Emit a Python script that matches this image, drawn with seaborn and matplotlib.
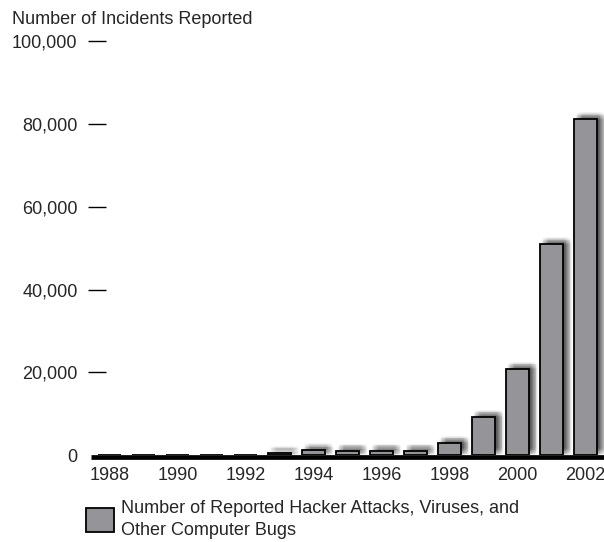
import math
import matplotlib
matplotlib.use("Agg")
import matplotlib.pyplot as plt
import matplotlib.patheffects as pe
from matplotlib.patches import Patch
from matplotlib.transforms import offset_copy
from matplotlib.ticker import FuncFormatter
import seaborn as sns
import pandas as pd

# Yearly incident counts
years = ["1988", "1989", "1990", "1991", "1992", "1993", "1994", "1995",
         "1996", "1997", "1998", "1999", "2000", "2001", "2002"]
incidents = [0, 0, 0, 0, 0, 500, 1100, 1000,
             1000, 1000, 2900, 9200, 20800, 51000, 81200]
year_labels = ["1988", "1990", "1992", "1994", "1996", "1998", "2000", "2002"]
y_ticks = [0, 20000, 40000, 60000, 80000, 100000]

axis_title = "Number of Incidents Reported"
legend_text = "Number of Reported Hacker Attacks, Viruses, and\nOther Computer Bugs"

BAR = "#949499"
FONT = ["Liberation Sans", "DejaVu Sans"]

sns.set_style("white")
plt.rcParams["font.family"] = FONT
plt.rcParams["font.size"] = 13

W, H = 604, 542
fig = plt.figure(figsize=(W / 100, H / 100), dpi=100)
left_px, bottom_px, top_px = 88, 455, 41.5
ax = fig.add_axes([left_px / W, (H - bottom_px) / H, 1 - left_px / W,
                   (bottom_px - top_px) / H])

df = pd.DataFrame({"year": years, "incidents": incidents})
sns.barplot(data=df, x="year", y="incidents", color=BAR, saturation=1,
            edgecolor="black", linewidth=1.3, width=0.68, ax=ax, zorder=2)

# soft, blurred drop shadow up and to the right of every bar
px = 0.72  # points per pixel
sigma = 2.8
grid = [i * 0.8 for i in range(-5, 6)]
weights = [[math.exp(-(dx * dx + dy * dy) / (2 * sigma * sigma)) for dx in grid]
           for dy in grid]
total = sum(sum(r) for r in weights)
strength = 1.05
shadow = []
for j, dy in enumerate(grid):
    for i, dx in enumerate(grid):
        a = strength * weights[j][i] / total
        shadow.append(pe.SimplePatchShadow(offset=((5 + dx) * px, (3 + dy) * px),
                                           shadow_rgbFace="#3a3a3a", alpha=a))
shadow.append(pe.Normal())
for bar in ax.patches:
    bar.set_path_effects(shadow)

ax.set_xlim(-(109.5 - left_px) / 34, (W - 109.5) / 34)
ax.set_ylim(0, 100000)

# thick baseline under the bars
base = offset_copy(ax.transData, fig=fig, x=0, y=-1.2, units="points")
ax.plot([ax.get_xlim()[0] + 3 / 34, ax.get_xlim()[1]], [0, 0], color="black",
        lw=3.4, solid_capstyle="butt", transform=base, zorder=4, clip_on=False)

ax.set_xticks([years.index(y) for y in year_labels])
ax.set_xticklabels(year_labels)
ax.set_yticks(y_ticks)
ax.yaxis.set_major_formatter(FuncFormatter(lambda v, p: f"{int(v):,}"))
ax.tick_params(axis="x", bottom=False, length=0, pad=9, labelsize=13)
ax.tick_params(axis="y", left=True, direction="in", length=13, width=1.0,
               pad=7.5, labelsize=13, color="black")
ax.yaxis.get_major_ticks()[0].tick1line.set_visible(False)
ax.set_xlabel("")
ax.set_ylabel("")
for s in ax.spines.values():
    s.set_visible(False)

fig.text(12 / W, 1 - 19 / H, axis_title, ha="left", va="center", fontsize=13)

handle = Patch(facecolor=BAR, edgecolor="black", linewidth=1.3)
fig.legend([handle], [legend_text], loc="upper left",
           bbox_to_anchor=(86 / W, 1 - 500 / H), frameon=False, fontsize=13,
           handlelength=1.55, handleheight=1.7, handletextpad=0.4,
           borderpad=0, borderaxespad=0)
for t in fig.legends[0].get_texts():
    t.set_linespacing(1.35)

fig.savefig("out.png", dpi=100)
